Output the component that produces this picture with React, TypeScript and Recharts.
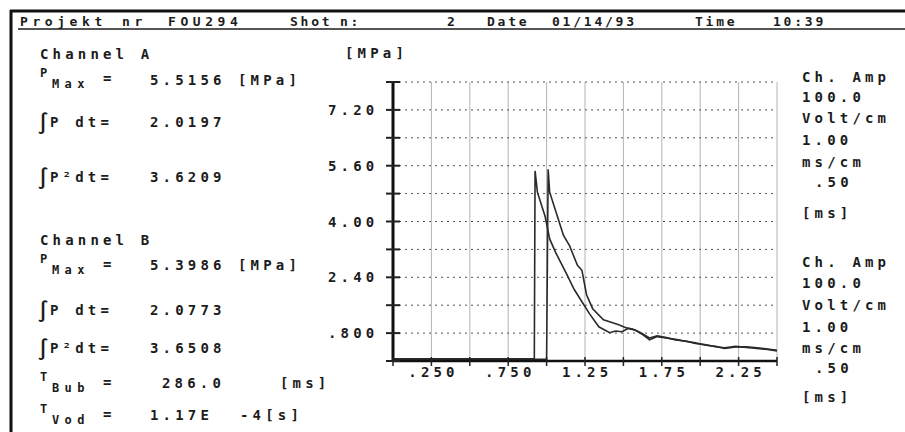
import React from "react";
import { LineChart, Line, XAxis, YAxis, CartesianGrid } from "recharts";

// channel A (left trace), time in ms / pressure in MPa
const timeA = [0, 0.5, 0.92, 0.925, 0.94, 0.99, 1.02, 1.06, 1.13, 1.18, 1.23, 1.28, 1.34, 1.41, 1.45, 1.49, 1.53, 1.58, 1.63, 1.67, 1.72, 1.78, 1.84, 1.91, 1.97, 2.03, 2.1, 2.16, 2.23, 2.3, 2.37, 2.44, 2.5];
const presA = [0.06, 0.06, 0.06, 5.45, 4.84, 4.15, 3.5, 3.1, 2.5, 2.05, 1.7, 1.35, 0.98, 0.81, 0.86, 0.84, 0.93, 0.88, 0.74, 0.61, 0.7, 0.66, 0.62, 0.56, 0.52, 0.46, 0.42, 0.36, 0.4, 0.41, 0.38, 0.34, 0.31];

// channel B (right trace)
const timeB = [0, 0.5, 1.0, 1.01, 1.02, 1.07, 1.11, 1.15, 1.2, 1.23, 1.26, 1.3, 1.37, 1.47, 1.52, 1.56, 1.61, 1.67, 1.72, 1.78, 1.84, 1.91, 1.97, 2.03, 2.1, 2.16, 2.23, 2.3, 2.37, 2.44, 2.5];
const presB = [0.05, 0.05, 0.05, 5.5, 4.84, 4.15, 3.6, 3.3, 2.75, 2.6, 1.9, 1.5, 1.18, 1.04, 0.95, 0.92, 0.82, 0.66, 0.72, 0.67, 0.6, 0.57, 0.5, 0.47, 0.41, 0.38, 0.42, 0.39, 0.36, 0.33, 0.29];

const xTicks = [0, 0.25, 0.5, 0.75, 1, 1.25, 1.5, 1.75, 2, 2.25, 2.5];
const xLabelValues = [0.25, 0.75, 1.25, 1.75, 2.25];
const xLabels = [".250", ".750", "1.25", "1.75", "2.25"];

const yTicks = [0, 0.8, 1.6, 2.4, 3.2, 4.0, 4.8, 5.6, 6.4, 7.2, 8.0];
const yLabelValues = [0.8, 2.4, 4.0, 5.6, 7.2];
const yLabels = [".800", "2.40", "4.00", "5.60", "7.20"];

const header = ["Projekt", "nr", "FOU294", "Shot", "n:", "2", "Date", "01/14/93", "Time", "10:39"];
const statsA = ["5.5156", "2.0197", "3.6209"];
const statsB = ["5.3986", "2.0773", "3.6508"];
const tBub = "286.0";
const tVod = "1.17E";
const ampInfo = ["Ch. Amp", "100.0", "Volt/cm", "1.00", "ms/cm", ".50", "[ms]"];

const seriesA = timeA.map((t, i) => ({ t, p: presA[i] }));
const seriesB = timeB.map((t, i) => ({ t, p: presB[i] }));

const MONO = "'DejaVu Sans Mono', monospace";
const PITCH = 12.6;
const INK = "#1c1c1c";

const T = ({ x, y, s = 14, pitch = PITCH, children }: any) => (
  <text
    x={x}
    y={y}
    fontFamily={MONO}
    fontWeight="bold"
    fontSize={s}
    fill={INK}
    style={{ letterSpacing: pitch - 0.602 * s }}
  >
    {children}
  </text>
);

const XTick = (props: any) => {
  const { x, y, payload } = props;
  const idx = xLabelValues.indexOf(payload.value);
  const w = 4 * PITCH - (PITCH - 0.602 * 14);
  return (
    <g>
      <line x1={x} x2={x} y1={y - 4} y2={y + 5} stroke="#222" strokeWidth={1.5} />
      {idx >= 0 && <T x={x - w / 2} y={y + 16}>{xLabels[idx]}</T>}
    </g>
  );
};

const YTick = (props: any) => {
  const { x, y, payload } = props;
  const idx = yLabelValues.indexOf(payload.value);
  return (
    <g>
      <line x1={x - 7} x2={x + 7} y1={y} y2={y} stroke="#222" strokeWidth={2} />
      {idx >= 0 && <T x={x - 65} y={y + 5}>{yLabels[idx]}</T>}
    </g>
  );
};

const Integral = ({ y, sq }: any) => (
  <g>
    <text x={37} y={y + 3} fontFamily={MONO} fontWeight="bold" fontSize={20} fill={INK}>∫</text>
    <T x={50} y={y}>{sq ? "P²dt=" : "P dt="}</T>
  </g>
);

const Sub = ({ y, main, sub }: any) => (
  <g>
    <T x={40} y={y - 6} s={12}>{main}</T>
    <T x={52} y={y + 5} s={12}>{sub}</T>
    <T x={103} y={y}>=</T>
  </g>
);

export default function App() {
  const headerX = [20, 122, 168, 290, 340, 447, 487, 552, 695, 773];
  const ampY1 = [82, 102, 123, 145, 167, 187, 218];
  const ampY2 = [267, 288, 310, 332, 353, 373, 402];
  return (
    <div style={{ position: "absolute", left: 0, top: 0, width: 905, height: 432, background: "#fff", overflow: "hidden" }}>
      <div style={{ position: "absolute", left: 0, top: 0 }}>
        <LineChart width={905} height={432} margin={{ top: 82, right: 128, bottom: 41, left: 320 }}>
          <CartesianGrid horizontal={false} stroke="#b4b4b4" strokeWidth={1} />
          <CartesianGrid vertical={false} stroke="#555" strokeDasharray="2 4" />
          <XAxis
            type="number"
            dataKey="t"
            domain={[0, 2.5]}
            ticks={xTicks}
            interval={0}
            allowDataOverflow
            tick={XTick}
            tickLine={false}
            tickSize={0}
            tickMargin={0}
            height={30}
            axisLine={{ stroke: "#111", strokeWidth: 2.5 }}
          />
          <YAxis
            type="number"
            dataKey="p"
            domain={[0, 8]}
            ticks={yTicks}
            interval={0}
            allowDataOverflow
            tick={YTick}
            tickLine={false}
            tickSize={0}
            tickMargin={0}
            width={73}
            axisLine={{ stroke: "#111", strokeWidth: 3 }}
          />
          <Line data={seriesA} dataKey="p" type="linear" stroke="#2a2a2a" strokeWidth={1.6} dot={false} isAnimationActive={false} />
          <Line data={seriesB} dataKey="p" type="linear" stroke="#2a2a2a" strokeWidth={1.6} dot={false} isAnimationActive={false} />
        </LineChart>
      </div>
      <svg width={905} height={432} style={{ position: "absolute", left: 0, top: 0, pointerEvents: "none" }}>
        <line x1={10} x2={905} y1={11} y2={11} stroke="#111" strokeWidth={3} />
        <line x1={11} x2={11} y1={10} y2={432} stroke="#111" strokeWidth={3} />
        <line x1={18} x2={905} y1={29} y2={29} stroke="#555" strokeWidth={2} />
        {header.map((h, i) => (
          <T key={i} x={headerX[i]} y={26} s={13} pitch={i < 3 ? 12.4 : 10.6}>{h}</T>
        ))}

        <T x={345} y={58}>[MPa]</T>

        <T x={40} y={59}>Channel A</T>
        <Sub y={83} main="P" sub="Max" />
        <T x={150} y={85}>{statsA[0]}</T>
        <T x={238} y={85}>[MPa]</T>
        <Integral y={127} />
        <T x={150} y={127}>{statsA[1]}</T>
        <Integral y={182} sq />
        <T x={150} y={182}>{statsA[2]}</T>

        <T x={40} y={245}>Channel B</T>
        <Sub y={269} main="P" sub="Max" />
        <T x={150} y={270}>{statsB[0]}</T>
        <T x={238} y={270}>[MPa]</T>
        <Integral y={315} />
        <T x={150} y={315}>{statsB[1]}</T>
        <Integral y={353} sq />
        <T x={150} y={353}>{statsB[2]}</T>

        <Sub y={387} main="T" sub="Bub" />
        <T x={162} y={388}>{tBub}</T>
        <T x={280} y={388}>[ms]</T>
        <Sub y={419} main="T" sub="Vod" />
        <T x={150} y={420}>{tVod}</T>
        <T x={240} y={420}>-4[s]</T>

        {ampInfo.map((a, i) => (
          <T key={"a" + i} x={a.startsWith(".") ? 815 : 802} y={ampY1[i]}>{a}</T>
        ))}
        {ampInfo.map((a, i) => (
          <T key={"b" + i} x={a.startsWith(".") ? 815 : 802} y={ampY2[i]}>{a}</T>
        ))}
      </svg>
    </div>
  );
}
